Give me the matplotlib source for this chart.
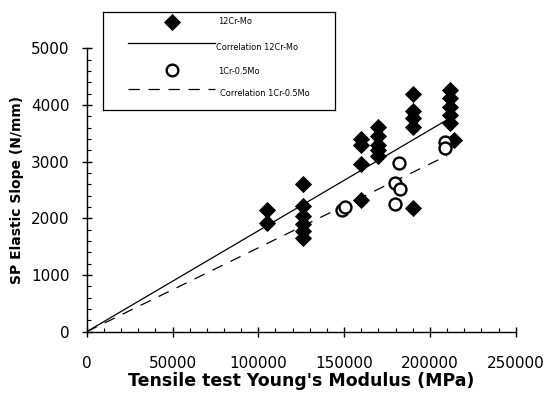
import matplotlib
matplotlib.use("Agg")
import matplotlib.pyplot as plt
import numpy as np
from matplotlib.ticker import MultipleLocator

# ---- data ----
x_12cr = [105000, 105000,
          126000, 126000, 126000, 126000, 126000, 126000,
          160000, 160000, 160000, 160000,
          170000, 170000, 170000, 170000, 170000,
          190000, 190000, 190000, 190000, 190000,
          212000, 212000, 212000, 212000, 212000, 214000]
y_12cr = [2150, 1920,
          2600, 2220, 2050, 1900, 1780, 1650,
          3400, 3300, 2950, 2330,
          3610, 3450, 3300, 3200, 3100,
          4200, 3900, 3770, 3620, 2180,
          4270, 4120, 3970, 3830, 3680, 3380]

x_1cr = [149000, 150500, 182000, 179500, 182500, 179500, 209000, 209000]
y_1cr = [2150, 2200, 2980, 2630, 2510, 2250, 3350, 3240]

corr_slope_12cr = 0.0178
corr_slope_1cr = 0.0148
corr_xmax_12cr = 212000
corr_xmax_1cr = 210000

legend_labels = ["12Cr-Mo", "Correlation 12Cr-Mo", "1Cr-0.5Mo", "Correlation 1Cr-0.5Mo"]
xlabel = "Tensile test Young's Modulus (MPa)"
ylabel = "SP Elastic Slope (N/mm)"

W, H = 549, 397
fig = plt.figure(figsize=(W / 100, H / 100), dpi=100)
fig.patch.set_facecolor("white")

def fx(px):
    return px / W

def fy(py):
    return 1 - py / H

x0, x1 = 86.7, 515.7
y0, y1 = 331.7, 48.3
ax = fig.add_axes([fx(x0), fy(y0), fx(x1) - fx(x0), fy(y1) - fy(y0)])

# correlation lines
xs = np.array([0, corr_xmax_12cr])
ax.plot(xs, corr_slope_12cr * xs, color="black", lw=0.9, zorder=2)
xs2 = np.array([0, corr_xmax_1cr])
ax.plot(xs2, corr_slope_1cr * xs2, color="black", lw=0.9, ls=(0, (9, 7)), zorder=2)

# points
ax.plot(x_12cr, y_12cr, ls="none", marker="D", ms=8.5, mfc="black", mec="black",
        mew=0.6, zorder=3, clip_on=False)
ax.plot(x_1cr, y_1cr, ls="none", marker="o", ms=8.6, mfc="white", mec="black",
        mew=1.7, zorder=4, clip_on=False)

ax.set_xlim(0, 250000)
ax.set_ylim(0, 5000)
ax.xaxis.set_major_locator(MultipleLocator(50000))
ax.xaxis.set_minor_locator(MultipleLocator(10000))
ax.yaxis.set_major_locator(MultipleLocator(1000))
ax.yaxis.set_minor_locator(MultipleLocator(200))

for s in ("top", "right"):
    ax.spines[s].set_visible(False)
for s in ("left", "bottom"):
    ax.spines[s].set_linewidth(1.0)

ax.tick_params(axis="both", which="major", direction="inout", length=7, width=1.0,
               labelsize=11)
ax.tick_params(axis="both", which="minor", direction="in", length=3, width=0.8)
ax.tick_params(axis="x", which="major", pad=14)
ax.tick_params(axis="y", which="major", pad=9)

ax.set_xlabel(xlabel, fontsize=12.5, fontweight="bold", labelpad=1)
ax.set_ylabel(ylabel, fontsize=10, fontweight="bold", labelpad=5)

# ---- legend box drawn in its own small axes (pixel coordinates) ----
lx0, lx1, ly0, ly1 = 103, 335, 12, 110
lax = fig.add_axes([fx(lx0), fy(ly1), fx(lx1) - fx(lx0), fy(ly0) - fy(ly1)])
lax.set_xlim(lx0, lx1)
lax.set_ylim(ly1, ly0)
lax.set_xticks([])
lax.set_yticks([])
for s in lax.spines.values():
    s.set_linewidth(0.9)

lax.plot([171.7], [21.7], marker="D", ms=8.5, mfc="black", mec="black", mew=0.6, ls="none")
lax.plot([128, 215], [43.5, 43.5], color="black", lw=0.9)
lax.plot([171.7], [70], marker="o", ms=8.4, mfc="white", mec="black", mew=1.7, ls="none")
lax.plot([128, 215], [88.7, 88.7], color="black", lw=0.9, ls=(0, (9, 7)))

tkw = dict(fontsize=5.9, va="center", ha="left")
lax.text(218, 22, legend_labels[0], **tkw)
lax.text(216, 47, legend_labels[1], **tkw)
lax.text(218, 72, legend_labels[2], **tkw)
lax.text(220, 93, legend_labels[3], **tkw)

fig.savefig("out.png", dpi=100)
